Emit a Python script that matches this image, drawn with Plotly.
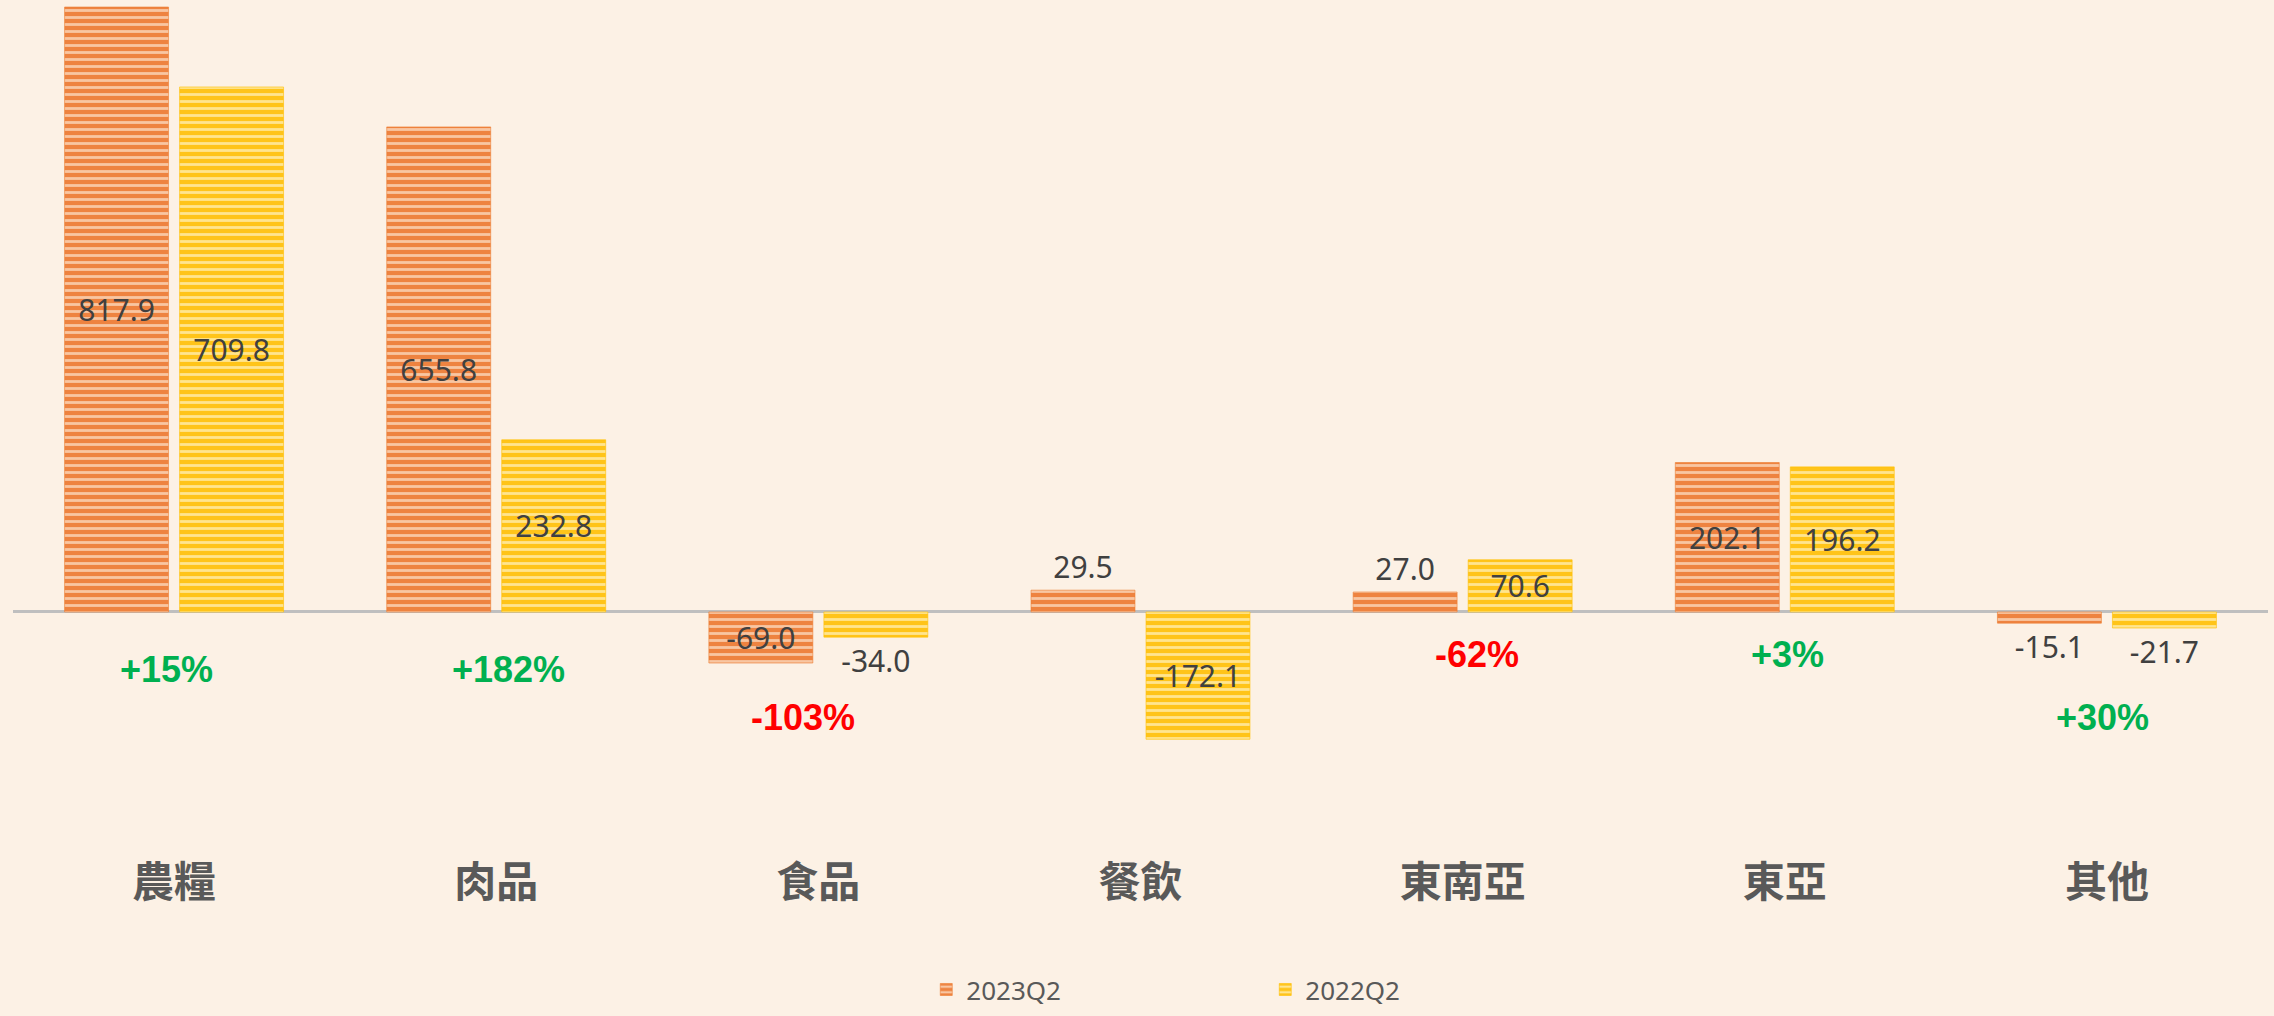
import plotly.graph_objects as go

# ---- data ----
categories = ["農糧", "肉品", "食品", "餐飲", "東南亞", "東亞", "其他"]
series_2023q2 = [817.9, 655.8, -69.0, 29.5, 27.0, 202.1, -15.1]
series_2022q2 = [709.8, 232.8, -34.0, -172.1, 70.6, 196.2, -21.7]
pct_labels = ["+15%", "+182%", "-103%", "", "-62%", "+3%", "+30%"]

# ---- layout/style ----
W, H = 2274, 1016
BG = "#FCF1E5"
pos_2023 = ["inside", "inside", "inside", "outside", "outside", "inside", "outside"]
pos_2022 = ["inside", "inside", "outside", "inside", "inside", "inside", "outside"]
pct_colors = ["#00B050", "#00B050", "#FF0000", "#00B050", "#FF0000", "#00B050", "#00B050"]
pct_y = [-78, -78, -142, 0, -58, -58, -142]
pct_xshift = [-8, 12, -15, 0, 14, 3, -4]

fig = go.Figure()
fig.add_bar(
    name="2023Q2", x=categories, y=series_2023q2,
    text=[f"{v:.1f}" for v in series_2023q2], textposition=pos_2023,
    insidetextanchor="middle",
    textfont=dict(family="Noto Sans", size=30, color="#404040"),
    marker=dict(color="#ED7D31",
                line=dict(color="rgba(237,125,49,0.6)", width=1),
                pattern=dict(shape="-", fillmode="replace", bgcolor="#EE8340",
                             fgcolor="#F8C6A2", size=7, solidity=0.4)),
    cliponaxis=False,
)
fig.add_bar(
    name="2022Q2", x=categories, y=series_2022q2,
    text=[f"{v:.1f}" for v in series_2022q2], textposition=pos_2022,
    insidetextanchor="middle",
    textfont=dict(family="Noto Sans", size=30, color="#404040"),
    marker=dict(color="#FFC000",
                line=dict(color="rgba(255,192,0,0.6)", width=1),
                pattern=dict(shape="-", fillmode="replace", bgcolor="#FFC419",
                             fgcolor="#FFE58F", size=7, solidity=0.4)),
    cliponaxis=False,
)

for c, t, col, yy, xs in zip(categories, pct_labels, pct_colors, pct_y, pct_xshift):
    if not t:
        continue
    fig.add_annotation(x=c, y=yy, text=t, showarrow=False, xshift=xs,
                       font=dict(family="Liberation Sans", size=36, color=col,
                                 weight="bold"))

fig.update_layout(
    width=W, height=H,
    paper_bgcolor=BG, plot_bgcolor=BG,
    margin=dict(l=13, r=6, t=0, b=166, autoexpand=False),
    barmode="group", bargap=0.286, bargroupgap=0.096,
    showlegend=True,
    legend=dict(orientation="h", x=0.405, xanchor="left",
                yref="container", y=0.026, yanchor="middle",
                font=dict(family="Noto Sans", size=26, color="#595959"),
                entrywidth=294, entrywidthmode="pixels", bgcolor="rgba(0,0,0,0)"),
    xaxis=dict(showline=False, ticks="", showgrid=False, automargin=False,
               ticklabelstandoff=4,
               tickfont=dict(family="Noto Sans CJK TC", size=42, color="#595959",
                             weight="bold")),
    yaxis=dict(range=[-321.8, 827.4], visible=True, showticklabels=False,
               showgrid=False, zeroline=True, zerolinecolor="#BFBFBF",
               zerolinewidth=3, fixedrange=True, automargin=False),
)
fig.update_traces(constraintext="none")

fig.write_html(
    "out.html",
    config={"displayModeBar": False},
    post_script="document.body.style.margin='0';document.body.style.overflow='hidden';"
                "document.body.style.background='" + BG + "';",
)
